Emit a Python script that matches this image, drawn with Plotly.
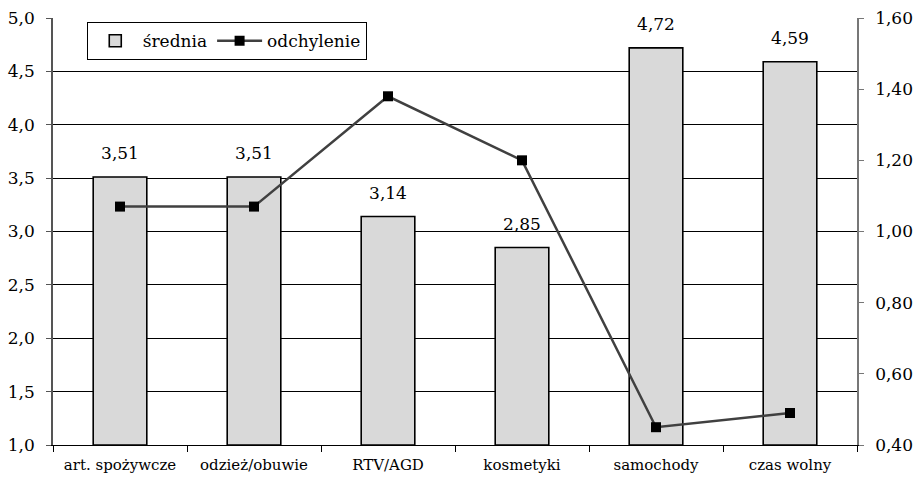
import plotly.graph_objects as go

categories = ["art. spożywcze", "odzież/obuwie", "RTV/AGD", "kosmetyki", "samochody", "czas wolny"]
srednia = [3.51, 3.51, 3.14, 2.85, 4.72, 4.59]
odchylenie = [1.07, 1.07, 1.38, 1.20, 0.45, 0.49]

left_ticks = [1.0, 1.5, 2.0, 2.5, 3.0, 3.5, 4.0, 4.5, 5.0]
right_ticks = [0.40, 0.60, 0.80, 1.00, 1.20, 1.40, 1.60]

FONT = "DejaVu Serif"

fig = go.Figure()

fig.add_trace(go.Bar(
    x=categories,
    y=[v - 1.0 for v in srednia],
    base=1.0,
    name="średnia",
    width=0.4,
    marker=dict(color="#d9d9d9", line=dict(color="#000000", width=1.6)),
    yaxis="y",
))

# value labels above the bars (invisible marker gives the gap above the bar top)
fig.add_trace(go.Scatter(
    x=categories,
    y=srednia,
    mode="markers+text",
    marker=dict(size=20, color="rgba(0,0,0,0)"),
    text=[f"{v:.2f}".replace(".", ",") for v in srednia],
    textposition="top center",
    textfont=dict(family=FONT, size=17, color="#000000"),
    cliponaxis=False,
    showlegend=False,
    hoverinfo="skip",
    yaxis="y",
))

fig.add_trace(go.Scatter(
    x=categories,
    y=odchylenie,
    name="odchylenie",
    mode="lines+markers",
    line=dict(color="#404040", width=2.5),
    marker=dict(symbol="square", size=10, color="#000000"),
    yaxis="y2",
))

fig.update_layout(
    width=917,
    height=482,
    margin=dict(l=53, r=60, t=18, b=37, autoexpand=False),
    paper_bgcolor="white",
    plot_bgcolor="white",
    font=dict(family=FONT, size=17, color="#000000"),
    separators=", ",
    showlegend=True,
    legend=dict(
        orientation="h",
        x=0.042, y=0.99, xanchor="left", yanchor="top",
        bordercolor="#000000", borderwidth=1,
        bgcolor="white",
        font=dict(family=FONT, size=17),
        itemwidth=45,
        tracegroupgap=0,
    ),
    xaxis=dict(
        type="category",
        automargin=False,
        showgrid=False,
        showline=True, linecolor="#000000", linewidth=1,
        ticks="outside", tickson="boundaries", ticklen=6, tickcolor="#000000",
        tickangle=0,
        ticklabelstandoff=6,
        tickfont=dict(family=FONT, size=15),
    ),
    yaxis=dict(
        range=[1.0, 5.0],
        automargin=False,
        tickvals=left_ticks,
        ticktext=[f"{v:.1f}".replace(".", ",") for v in left_ticks],
        tickfont=dict(family=FONT, size=17),
        showgrid=True, gridcolor="#000000", gridwidth=1,
        showline=True, linecolor="#555555", linewidth=1.5,
        ticks="outside", ticklen=5, tickcolor="#555555",
        ticklabelstandoff=8,
        zeroline=False,
    ),
    yaxis2=dict(
        range=[0.40, 1.60],
        automargin=False,
        overlaying="y",
        side="right",
        tickvals=right_ticks,
        ticktext=[f"{v:.2f}".replace(".", ",") for v in right_ticks],
        tickfont=dict(family=FONT, size=17),
        showgrid=False,
        showline=True, linecolor="#777777", linewidth=1.5,
        ticks="outside", ticklen=5, tickcolor="#777777",
        ticklabelstandoff=8,
        zeroline=False,
    ),
)

fig.write_html("out.html")
